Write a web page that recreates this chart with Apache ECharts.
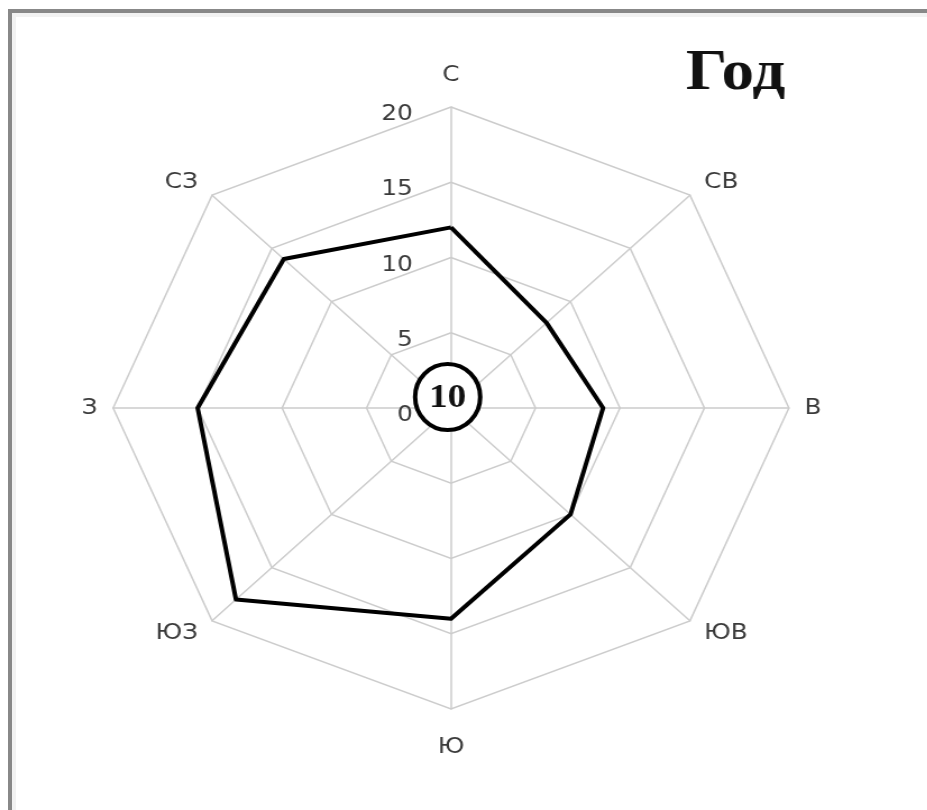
<!DOCTYPE html>
<html><head><meta charset="utf-8">
<script src="https://cdn.jsdelivr.net/npm/echarts@6/dist/echarts.min.js"></script>
<style>
html,body{margin:0;padding:0;background:#fff;overflow:hidden;width:927px;height:810px}
#frame{position:absolute;left:8px;top:9px;width:940px;height:820px;border-left:4px solid #888;border-top:4px solid #888;}
#inner{position:absolute;left:12px;top:13px;width:940px;height:820px;border-left:4px solid #f2f2f2;border-top:4px solid #f2f2f2;}
#chart{position:absolute;left:0;top:0;width:826px;height:810px;transform:scaleX(1.1225);transform-origin:0 0;}
</style></head>
<body><div id="frame"></div><div id="inner"></div><div id="chart"></div>
<script>
// Wind rose data (compass order)
const directions = ['С', 'СВ', 'В', 'ЮВ', 'Ю', 'ЮЗ', 'З', 'СЗ'];
const frequency = [12, 8, 9, 10, 14, 18, 15, 14];
const calm = 10;
const maxValue = 20;
const tickStep = 5;
const titleText = 'Год';

// radar places indicators counter-clockwise; reorder so compass runs clockwise
const order = [0, 7, 6, 5, 4, 3, 2, 1];
const nameGaps = [21, 18, 14, 18, 27, 18, 14, 18]; // compass order
const cx = 401.8, cy = 408, R = 301;

const chart = echarts.init(document.getElementById('chart'), null, {renderer: 'canvas'});
chart.setOption({
  backgroundColor: 'transparent',
  animation: false,
  title: {
    text: titleText, left: 606, top: 40,
    textStyle: {fontFamily: 'Liberation Serif', fontWeight: 'bold', fontSize: 58, color: '#111'}
  },
  radar: {
    center: [cx, cy], radius: R, startAngle: 90, shape: 'polygon',
    splitNumber: maxValue / tickStep,
    indicator: order.map((i, k) => ({
      name: directions[i], min: 0, max: maxValue,
      nameGap: nameGaps[i],
      axisLabel: {show: k === 0}
    })),
    axisName: {color: '#3a3a3a', fontSize: 22, fontFamily: 'DejaVu Sans'},
    nameGap: 14,
    splitLine: {lineStyle: {color: '#cccccc', width: 1.5}},
    splitArea: {show: false},
    axisLine: {lineStyle: {color: '#cccccc', width: 1.5}},
    axisTick: {show: false},
    axisLabel: {
      show: true, showMinLabel: true, margin: 34, color: '#3a3a3a',
      fontSize: 22, fontFamily: 'DejaVu Sans',
      verticalAlign: 'top', lineHeight: 15
    }
  },
  series: [{
    type: 'radar',
    symbol: 'none',
    lineStyle: {color: '#000', width: 4},
    data: [{value: order.map(i => frequency[i]), name: titleText}]
  }],
  graphic: [
    {type: 'ellipse', z: 100, x: cx - 3, y: cy - 11, shape: {cx: 0, cy: 0, rx: 29, ry: 33},
     style: {fill: '#fff', stroke: '#000', lineWidth: 4}},
    {type: 'text', z: 101, x: cx - 3, y: cy - 10,
     style: {text: String(calm), fontFamily: 'Liberation Serif', fontWeight: 'bold',
             fontSize: 33, fill: '#111', align: 'center', verticalAlign: 'middle'}}
  ]
});
</script>
</body></html>
